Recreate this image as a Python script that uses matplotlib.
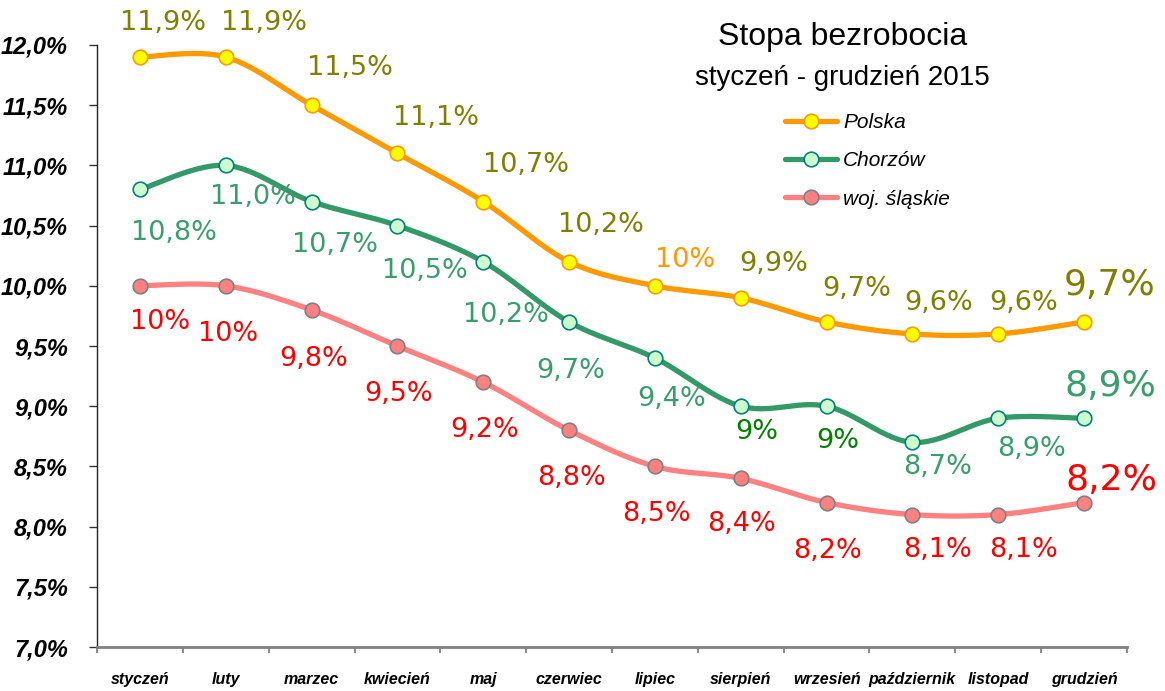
import numpy as np
import matplotlib
matplotlib.use('Agg')
import matplotlib.pyplot as plt
from matplotlib.ticker import FuncFormatter, FixedLocator

# data
months = ['styczeń', 'luty', 'marzec', 'kwiecień', 'maj', 'czerwiec', 'lipiec',
          'sierpień', 'wrzesień', 'październik', 'listopad', 'grudzień']
polska = [11.9, 11.9, 11.5, 11.1, 10.7, 10.2, 10.0, 9.9, 9.7, 9.6, 9.6, 9.7]
chorzow = [10.8, 11.0, 10.7, 10.5, 10.2, 9.7, 9.4, 9.0, 9.0, 8.7, 8.9, 8.9]
slaskie = [10.0, 10.0, 9.8, 9.5, 9.2, 8.8, 8.5, 8.4, 8.2, 8.1, 8.1, 8.2]
series_names = ['Polska', 'Chorzów', 'woj. śląskie']

# labels shown without decimals in the original
short_polska = {6}
short_chorzow = {7, 8}
short_slaskie = {0, 1}

# label offsets in pixels (dx, dy up)
off_polska = [(23, 34), (38, 34), (38, 37), (39, 35), (43, 37), (32, 37),
              (30, 26), (33, 34), (30, 33), (26, 31), (25, 31), (26, 37)]
off_chorzow = [(34, -44), (27, -32), (23, -43), (27, -45), (23, -53), (2, -49),
               (17, -41), (16, -26), (11, -35), (25, -25), (33, -31), (26, 32)]
off_slaskie = [(20, -36), (2, -48), (2, -49), (1, -48), (1, -48), (2, -48),
               (2, -48), (1, -46), (1, -48), (25, -35), (25, -35), (27, 23)]


def smooth(vals, n=30):
    # bezier smoothing like excel "smoothed line"
    pts = np.column_stack([np.arange(len(vals)), vals]).astype(float)
    P = np.vstack([pts[0], pts, pts[-1]])
    t = np.linspace(0, 1, n, endpoint=False)[:, None]
    out = []
    for i in range(len(pts) - 1):
        p0, p1, p2, p3 = P[i], P[i + 1], P[i + 2], P[i + 3]
        c1 = p1 + (p2 - p0) / 6
        c2 = p2 - (p3 - p1) / 6
        out.append((1 - t)**3 * p1 + 3 * (1 - t)**2 * t * c1
                   + 3 * (1 - t) * t**2 * c2 + t**3 * p2)
    out.append(pts[-1:])
    return np.vstack(out), list(range(0, n * (len(pts) - 1) + 1, n))


def lab(v, short):
    if short:
        return f'{v:.0f}%'
    return f'{v:.1f}%'.replace('.', ',')


fig = plt.figure(figsize=(11.65, 6.91), dpi=100)
ax = fig.add_axes([97 / 1165, 44 / 691, 1030 / 1165, 602 / 691])

styles = [
    dict(color='#FF9900', mfc='#FFFF00', mec='#FF9900'),
    dict(color='#339966', mfc='#CCFFCC', mec='#008080'),
    dict(color='#FF8080', mfc='#FF8080', mec='#808080'),
]
for vals, name, st in zip([polska, chorzow, slaskie], series_names, styles):
    xy, every = smooth(vals)
    ax.plot(xy[:, 0], xy[:, 1], lw=3.8, color=st['color'], marker='o',
            markevery=every, ms=10.5, mfc=st['mfc'], mec=st['mec'], mew=1.2,
            label=name, solid_capstyle='round', zorder=3)

# data labels
for i, v in enumerate(polska):
    c = '#FF9900' if i in short_polska else '#808000'
    fs = 26 if i == len(polska) - 1 else 19.5
    ax.annotate(lab(v, i in short_polska), (i, v), xytext=off_polska[i],
                textcoords='offset pixels', ha='center', va='center',
                color=c, fontsize=fs, family='DejaVu Sans')
for i, v in enumerate(chorzow):
    c = '#008000' if i in short_chorzow else '#3A9E6C'
    fs = 26 if i == len(chorzow) - 1 else 19.5
    ax.annotate(lab(v, i in short_chorzow), (i, v), xytext=off_chorzow[i],
                textcoords='offset pixels', ha='center', va='center',
                color=c, fontsize=fs, family='DejaVu Sans')
for i, v in enumerate(slaskie):
    fs = 26 if i == len(slaskie) - 1 else 19.5
    ax.annotate(lab(v, i in short_slaskie), (i, v), xytext=off_slaskie[i],
                textcoords='offset pixels', ha='center', va='center',
                color='#FF0000', fontsize=fs, family='DejaVu Sans')

ax.set_xlim(-0.5, len(months) - 0.5)
ax.set_ylim(7.0, 12.0)
ax.set_yticks(np.arange(7.0, 12.01, 0.5))
ax.yaxis.set_major_formatter(FuncFormatter(lambda v, p: f'{v:.1f}%'.replace('.', ',')))
ax.tick_params(axis='y', direction='out', length=6, width=1, color='#333333', pad=15)
for t in ax.get_yticklabels():
    t.set_family(['Liberation Sans Narrow', 'Liberation Sans'])
    t.set_fontweight('bold')
    t.set_fontstyle('italic')
    t.set_fontsize(17)

ax.set_xticks(range(len(months)))
ax.set_xticklabels(months)
ax.xaxis.set_minor_locator(FixedLocator(np.arange(-0.5, len(months), 1.0)))
ax.tick_params(axis='x', which='major', length=0, pad=18)
ax.tick_params(axis='x', which='minor', direction='out', length=4.5, width=1.3, color='#808080')
for t in ax.get_xticklabels():
    t.set_family('Liberation Sans')
    t.set_fontweight('bold')
    t.set_fontstyle('italic')
    t.set_fontsize(11.5)

for s in ['top', 'right']:
    ax.spines[s].set_visible(False)
ax.spines['left'].set_color('#222222')
ax.spines['left'].set_linewidth(1.0)
ax.spines['bottom'].set_color('#808080')
ax.spines['bottom'].set_linewidth(2.0)

fig.text(843 / 1165, 1 - 45 / 691, 'Stopa bezrobocia', ha='center', va='baseline',
         fontsize=23, family='Liberation Sans')
fig.text(842 / 1165, 1 - 85 / 691, 'styczeń - grudzień 2015', ha='center', va='baseline',
         fontsize=20, family='Liberation Sans')

ax.legend(loc='upper left', bbox_to_anchor=(785 / 1165, 1 - 113 / 691),
          bbox_transform=fig.transFigure, frameon=False, borderpad=0,
          borderaxespad=0, handlelength=2.5, handletextpad=0.3, labelspacing=0.93,
          prop=dict(family='Liberation Sans', style='italic', size=15))

fig.savefig('out.png', dpi=100)
